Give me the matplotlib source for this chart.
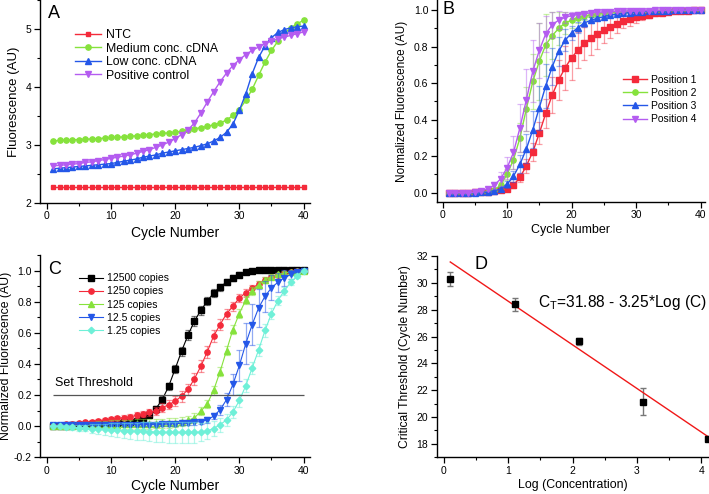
import matplotlib
matplotlib.use("Agg")
import matplotlib.pyplot as plt
import numpy as np
from matplotlib.ticker import MultipleLocator

plt.rcParams['font.family'] = ['Liberation Sans', 'DejaVu Sans']

# ---- Panel A: raw fluorescence ----
cycles = np.arange(1, 41)
a_ntc = [2.27, 2.27, 2.27, 2.27, 2.27, 2.27, 2.27, 2.27, 2.27, 2.27,
         2.27, 2.27, 2.27, 2.27, 2.27, 2.27, 2.27, 2.27, 2.27, 2.27,
         2.27, 2.27, 2.27, 2.27, 2.27, 2.27, 2.27, 2.27, 2.27, 2.27,
         2.27, 2.27, 2.27, 2.27, 2.27, 2.27, 2.27, 2.27, 2.27, 2.27]
a_medium = [3.07, 3.08, 3.085, 3.09, 3.095, 3.10, 3.105, 3.11, 3.12, 3.13,
            3.135, 3.14, 3.15, 3.16, 3.17, 3.18, 3.19, 3.20, 3.21, 3.22,
            3.24, 3.26, 3.28, 3.30, 3.32, 3.35, 3.38, 3.43, 3.51, 3.61,
            3.77, 3.96, 4.20, 4.43, 4.63, 4.79, 4.92, 5.02, 5.09, 5.15]
a_low = [2.59, 2.60, 2.61, 2.62, 2.63, 2.64, 2.65, 2.66, 2.67, 2.68,
         2.70, 2.72, 2.74, 2.76, 2.79, 2.81, 2.83, 2.86, 2.88, 2.90,
         2.92, 2.94, 2.96, 2.99, 3.02, 3.07, 3.13, 3.22, 3.36, 3.60,
         3.88, 4.23, 4.51, 4.71, 4.85, 4.94, 4.99, 5.02, 5.04, 5.05]
a_positive = [2.64, 2.65, 2.66, 2.67, 2.68, 2.70, 2.71, 2.73, 2.75, 2.77,
              2.79, 2.81, 2.83, 2.86, 2.89, 2.92, 2.96, 3.00, 3.05, 3.11,
              3.18, 3.26, 3.38, 3.55, 3.74, 3.92, 4.09, 4.24, 4.37, 4.47,
              4.56, 4.63, 4.69, 4.75, 4.79, 4.83, 4.86, 4.89, 4.92, 4.95]

# ---- Panel B: normalized fluorescence per position ----
b_pos1 = [0, 0, 0, 0, 0.001, 0.002, 0.004, 0.007, 0.012, 0.018,
          0.04, 0.084, 0.146, 0.224, 0.325, 0.434, 0.535, 0.617, 0.684, 0.739,
          0.781, 0.818, 0.845, 0.869, 0.89, 0.909, 0.925, 0.94, 0.951, 0.96,
          0.969, 0.976, 0.982, 0.987, 0.99, 0.993, 0.995, 0.997, 0.999, 1.0]
b_pos1_err = [0, 0, 0, 0, 0, 0, 0.002, 0.003, 0.005, 0.008,
              0.015, 0.025, 0.04, 0.05, 0.06, 0.08, 0.1, 0.11, 0.12, 0.12,
              0.1, 0.09, 0.09, 0.08, 0.07, 0.06, 0.05, 0.04, 0.035, 0.03,
              0.025, 0.02, 0.015, 0.01, 0.008, 0.006, 0.004, 0.003, 0.002, 0]
b_pos2 = [0, 0, 0, 0, 0, 0.002, 0.005, 0.015, 0.04, 0.1,
          0.18, 0.30, 0.46, 0.61, 0.72, 0.81, 0.86, 0.90, 0.93, 0.945,
          0.958, 0.968, 0.975, 0.98, 0.985, 0.988, 0.99, 0.992, 0.994, 0.995,
          0.996, 0.997, 0.998, 0.998, 0.999, 0.999, 1.0, 1.0, 1.0, 1.0]
b_pos2_err = [0, 0, 0, 0, 0, 0.002, 0.004, 0.01, 0.02, 0.03,
              0.05, 0.08, 0.12, 0.15, 0.21, 0.17, 0.13, 0.09, 0.06, 0.04,
              0.03, 0.02, 0.015, 0.01, 0.01, 0.008, 0.006, 0.005, 0.004, 0.003,
              0.002, 0.002, 0.001, 0.001, 0, 0, 0, 0, 0, 0]
b_pos3 = [0, 0, 0, 0, 0, 0.001, 0.003, 0.01, 0.02, 0.045,
          0.09, 0.155, 0.24, 0.345, 0.465, 0.585, 0.69, 0.775, 0.835, 0.875,
          0.905, 0.93, 0.945, 0.955, 0.965, 0.972, 0.978, 0.983, 0.987, 0.99,
          0.992, 0.994, 0.996, 0.997, 0.998, 0.999, 1.0, 1.0, 1.0, 1.0]
b_pos3_err = [0, 0, 0, 0, 0, 0.001, 0.002, 0.005, 0.01, 0.02,
              0.03, 0.05, 0.08, 0.1, 0.12, 0.12, 0.1, 0.08, 0.06, 0.04,
              0.03, 0.02, 0.015, 0.01, 0.008, 0.006, 0.005, 0.004, 0.003, 0.002,
              0.002, 0.001, 0.001, 0, 0, 0, 0, 0, 0, 0]
b_pos4 = [0, 0, 0, 0, 0.003, 0.01, 0.02, 0.04, 0.075, 0.135,
          0.22, 0.355, 0.51, 0.665, 0.78, 0.87, 0.92, 0.945, 0.96, 0.97,
          0.976, 0.981, 0.985, 0.988, 0.99, 0.992, 0.994, 0.995, 0.996, 0.997,
          0.998, 0.998, 0.999, 0.999, 1.0, 1.0, 1.0, 1.0, 1.0, 1.0]
b_pos4_err = [0, 0, 0, 0, 0.002, 0.005, 0.01, 0.02, 0.04, 0.06,
              0.09, 0.13, 0.17, 0.17, 0.15, 0.1, 0.07, 0.05, 0.03, 0.02,
              0.015, 0.01, 0.01, 0.008, 0.006, 0.005, 0.004, 0.003, 0.002, 0.002,
              0.001, 0.001, 0, 0, 0, 0, 0, 0, 0, 0]

# ---- Panel C: dilution series ----
c_12500 = [0.0, 0.002, 0.004, 0.006, 0.008, 0.01, 0.012, 0.014, 0.016, 0.018,
           0.02, 0.025, 0.03, 0.035, 0.05, 0.07, 0.113, 0.171, 0.257, 0.368,
           0.482, 0.585, 0.675, 0.745, 0.803, 0.857, 0.893, 0.927, 0.953, 0.974,
           0.989, 1.0, 1.005, 1.005, 1.005, 1.005, 1.005, 1.005, 1.005, 1.003]
c_12500_err = [0.005, 0.005, 0.005, 0.006, 0.006, 0.006, 0.007, 0.007, 0.008, 0.008,
               0.009, 0.01, 0.01, 0.012, 0.012, 0.015, 0.018, 0.02, 0.022, 0.025,
               0.03, 0.03, 0.03, 0.028, 0.025, 0.025, 0.022, 0.02, 0.018, 0.015,
               0.012, 0.01, 0.008, 0.006, 0.005, 0.004, 0.003, 0.003, 0.002, 0.002]
c_1250 = [0.005, 0.008, 0.012, 0.015, 0.02, 0.025, 0.03, 0.035, 0.04, 0.045,
          0.05, 0.055, 0.06, 0.07, 0.08, 0.09, 0.10, 0.118, 0.139, 0.16,
          0.193, 0.236, 0.304, 0.385, 0.478, 0.58, 0.653, 0.722, 0.771, 0.824,
          0.857, 0.885, 0.915, 0.94, 0.958, 0.972, 0.983, 0.99, 0.995, 1.0]
c_1250_err = [0.005, 0.006, 0.007, 0.008, 0.009, 0.01, 0.011, 0.012, 0.013, 0.014,
              0.015, 0.016, 0.017, 0.018, 0.02, 0.022, 0.025, 0.028, 0.03, 0.032,
              0.035, 0.038, 0.04, 0.04, 0.04, 0.038, 0.035, 0.032, 0.03, 0.028,
              0.025, 0.022, 0.02, 0.018, 0.015, 0.012, 0.01, 0.008, 0.006, 0.004]
c_125 = [0.0, 0.0, 0.002, 0.003, 0.004, 0.005, 0.006, 0.007, 0.008, 0.009,
         0.01, 0.011, 0.012, 0.013, 0.014, 0.015, 0.016, 0.018, 0.02, 0.022,
         0.028, 0.038, 0.053, 0.096, 0.143, 0.231, 0.351, 0.486, 0.621, 0.724,
         0.81, 0.867, 0.91, 0.94, 0.96, 0.975, 0.985, 0.99, 0.995, 1.0]
c_125_err = [0.01, 0.012, 0.014, 0.016, 0.018, 0.02, 0.022, 0.024, 0.026, 0.028,
             0.03, 0.03, 0.03, 0.03, 0.03, 0.03, 0.03, 0.03, 0.03, 0.03,
             0.03, 0.03, 0.03, 0.025, 0.025, 0.03, 0.03, 0.03, 0.03, 0.03,
             0.028, 0.025, 0.022, 0.02, 0.015, 0.012, 0.01, 0.008, 0.006, 0.004]
c_12_5 = [0.005, 0.006, 0.007, 0.008, 0.008, 0.009, 0.009, 0.01, 0.01, 0.01,
          0.01, 0.01, 0.01, 0.01, 0.01, 0.01, 0.01, 0.012, 0.014, 0.016,
          0.018, 0.02, 0.025, 0.03, 0.04, 0.065, 0.105, 0.17, 0.268, 0.39,
          0.53, 0.653, 0.76, 0.835, 0.889, 0.925, 0.953, 0.975, 0.99, 1.0]
c_12_5_err = [0.005, 0.005, 0.006, 0.006, 0.007, 0.007, 0.008, 0.008, 0.009, 0.009,
              0.01, 0.01, 0.01, 0.01, 0.01, 0.01, 0.01, 0.01, 0.012, 0.012,
              0.012, 0.012, 0.015, 0.015, 0.02, 0.02, 0.03, 0.04, 0.07, 0.1,
              0.13, 0.13, 0.12, 0.1, 0.08, 0.06, 0.05, 0.03, 0.02, 0.01]
c_1_25 = [0.0, -0.002, -0.005, -0.008, -0.01, -0.012, -0.015, -0.018, -0.02, -0.022,
          -0.025, -0.028, -0.03, -0.032, -0.034, -0.036, -0.038, -0.04, -0.04, -0.04,
          -0.04, -0.04, -0.04, -0.038, -0.03, -0.015, 0.01, 0.04, 0.09, 0.165,
          0.26, 0.375, 0.49, 0.615, 0.724, 0.807, 0.87, 0.925, 0.965, 1.0]
c_1_25_err = [0.005, 0.008, 0.012, 0.015, 0.018, 0.022, 0.026, 0.03, 0.035, 0.04,
              0.045, 0.05, 0.052, 0.055, 0.058, 0.06, 0.062, 0.064, 0.065, 0.065,
              0.065, 0.065, 0.065, 0.06, 0.055, 0.05, 0.045, 0.04, 0.04, 0.04,
              0.04, 0.04, 0.04, 0.04, 0.035, 0.03, 0.025, 0.02, 0.015, 0.01]
threshold = 0.2

# ---- Panel D: standard curve ----
log_conc = [0.1, 1.1, 2.1, 3.1, 4.1]
ct = [30.3, 28.4, 25.65, 21.15, 18.4]
ct_err = [0.5, 0.5, 0.25, 1.0, 0.15]
fit_intercept = 31.88
fit_slope = -3.25

RED = '#f42a3a'
GREEN = '#86e23c'
BLUE = '#2457e8'
PURPLE = '#b45cf0'
CYAN = '#6ff0d8'

fig = plt.figure(figsize=(7.09, 4.94), dpi=100)
axA = fig.add_axes([0.0564, 0.589, 0.3808, 0.411])
axB = fig.add_axes([0.616, 0.5917, 0.3784, 0.408])
axC = fig.add_axes([0.0564, 0.0743, 0.3808, 0.4095])
axD = fig.add_axes([0.616, 0.0743, 0.384, 0.4075])


def style(ax):
    for s in ['top', 'right']:
        ax.spines[s].set_visible(False)
    for s in ['left', 'bottom']:
        ax.spines[s].set_linewidth(1.0)
    ax.tick_params(which='major', direction='out', length=4, width=0.9, labelsize=7.5, pad=2)
    ax.tick_params(which='minor', direction='out', length=2.2, width=0.8)


# Panel A
axA.plot(cycles, a_ntc, '-s', color=RED, ms=3.2, lw=1, label='NTC')
axA.plot(cycles, a_medium, '-o', color=GREEN, ms=3.8, lw=1, label='Medium conc. cDNA')
axA.plot(cycles, a_low, '-^', color=BLUE, ms=3.8, lw=1, label='Low conc. cDNA')
axA.plot(cycles, a_positive, '-v', color=PURPLE, ms=3.8, lw=1, label='Positive control')
axA.set_xlim(-1.05, 41)
axA.set_ylim(2, 5.5)
axA.xaxis.set_major_locator(MultipleLocator(10))
axA.xaxis.set_minor_locator(MultipleLocator(5))
axA.yaxis.set_major_locator(MultipleLocator(1))
axA.yaxis.set_minor_locator(MultipleLocator(0.5))
style(axA)
axA.set_xlabel('Cycle Number', fontsize=10, labelpad=3)
axA.set_ylabel('Fluorescence (AU)', fontsize=9.5, labelpad=4)
axA.legend(loc='upper left', bbox_to_anchor=(0.11, 0.88), frameon=False, fontsize=8.8,
           handlelength=2.2, handletextpad=0.4, labelspacing=0.12, borderaxespad=0)
axA.text(0.03, 0.975, 'A', transform=axA.transAxes, fontsize=13, va='top', ha='left')

# Panel B
for vals, errs, mk, col, lab in [(b_pos1, b_pos1_err, 's', RED, 'Position 1'),
                                 (b_pos2, b_pos2_err, 'o', GREEN, 'Position 2'),
                                 (b_pos3, b_pos3_err, '^', BLUE, 'Position 3'),
                                 (b_pos4, b_pos4_err, 'v', PURPLE, 'Position 4')]:
    axB.errorbar(cycles, vals, yerr=errs, fmt='none', ecolor=col, alpha=0.45,
                 elinewidth=0.9, capsize=2, capthick=0.9)
    axB.plot(cycles, vals, '-' + mk, color=col, ms=3.8, lw=1, label=lab)
axB.set_xlim(-0.9, 40.7)
axB.set_ylim(-0.05, 1.055)
axB.xaxis.set_major_locator(MultipleLocator(10))
axB.xaxis.set_minor_locator(MultipleLocator(5))
axB.yaxis.set_major_locator(MultipleLocator(0.2))
axB.yaxis.set_minor_locator(MultipleLocator(0.1))
axB.yaxis.set_major_formatter(plt.FormatStrFormatter('%.1f'))
style(axB)
axB.set_xlabel('Cycle Number', fontsize=9, labelpad=3)
axB.set_ylabel('Normalized Fluorescence (AU)', fontsize=8.5, labelpad=4)
axB.legend(loc='upper left', bbox_to_anchor=(0.68, 0.65), frameon=False, fontsize=7.5,
           handlelength=2.3, handletextpad=0.4, labelspacing=0.3, borderaxespad=0)
axB.text(0.02, 0.995, 'B', transform=axB.transAxes, fontsize=13, va='top', ha='left')

# Panel C
for vals, errs, mk, col, lab in [(c_12500, c_12500_err, 's', 'black', '12500 copies'),
                                 (c_1250, c_1250_err, 'o', RED, '1250 copies'),
                                 (c_125, c_125_err, '^', GREEN, '125 copies'),
                                 (c_12_5, c_12_5_err, 'v', BLUE, '12.5 copies'),
                                 (c_1_25, c_1_25_err, 'D', CYAN, '1.25 copies')]:
    axC.errorbar(cycles, vals, yerr=errs, fmt='none', ecolor=col, alpha=0.5,
                 elinewidth=0.9, capsize=2, capthick=0.9)
    axC.plot(cycles, vals, '-' + mk, color=col, ms=3.8 if mk != 'D' else 3.3, lw=0.8, label=lab)
axC.hlines(threshold, 1, 40, color='#555555', lw=0.9)
axC.text(1.3, 0.28, 'Set Threshold', fontsize=9, va='center', ha='left')
axC.set_xlim(-1.05, 41)
axC.set_ylim(-0.2, 1.1)
axC.xaxis.set_major_locator(MultipleLocator(10))
axC.xaxis.set_minor_locator(MultipleLocator(5))
axC.yaxis.set_major_locator(MultipleLocator(0.2))
axC.yaxis.set_minor_locator(MultipleLocator(0.1))
axC.yaxis.set_major_formatter(plt.FormatStrFormatter('%.1f'))
style(axC)
axC.set_xlabel('Cycle Number', fontsize=10, labelpad=2.5)
axC.set_ylabel('Normalized Fluorescence (AU)', fontsize=8.8, labelpad=1)
axC.legend(loc='upper left', bbox_to_anchor=(0.13, 0.93), frameon=False, fontsize=7.5,
           handlelength=2.3, handletextpad=0.4, labelspacing=0.3, borderaxespad=0)
axC.text(0.03, 0.97, 'C', transform=axC.transAxes, fontsize=13, va='top', ha='left')

# Panel D
axD.errorbar(log_conc, ct, yerr=ct_err, fmt='s', color='black', ecolor='#777777',
             ms=4, elinewidth=1, capsize=2, capthick=1, clip_on=False)
fit_x = np.array([log_conc[0], log_conc[-1]])
axD.plot(fit_x, fit_intercept + fit_slope * fit_x, color='#f01818', lw=1)
axD.text(1.46, 28.5, r'C$_\mathregular{T}$=31.88 - 3.25*Log (C)', fontsize=11.2, va='center', ha='left')
axD.text(0.47, 31.4, 'D', fontsize=13, va='center', ha='left')
axD.set_xlim(-0.11, 4.12)
axD.set_ylim(17, 32)
axD.xaxis.set_major_locator(MultipleLocator(1))
axD.xaxis.set_minor_locator(MultipleLocator(0.5))
axD.yaxis.set_major_locator(MultipleLocator(2))
axD.yaxis.set_minor_locator(MultipleLocator(1))
style(axD)
axD.set_xlabel('Log (Concentration)', fontsize=8.9, labelpad=2.5)
axD.set_ylabel('Critical Threshold (Cycle Number)', fontsize=8.7, labelpad=4)

fig.savefig('out.png', dpi=100)
